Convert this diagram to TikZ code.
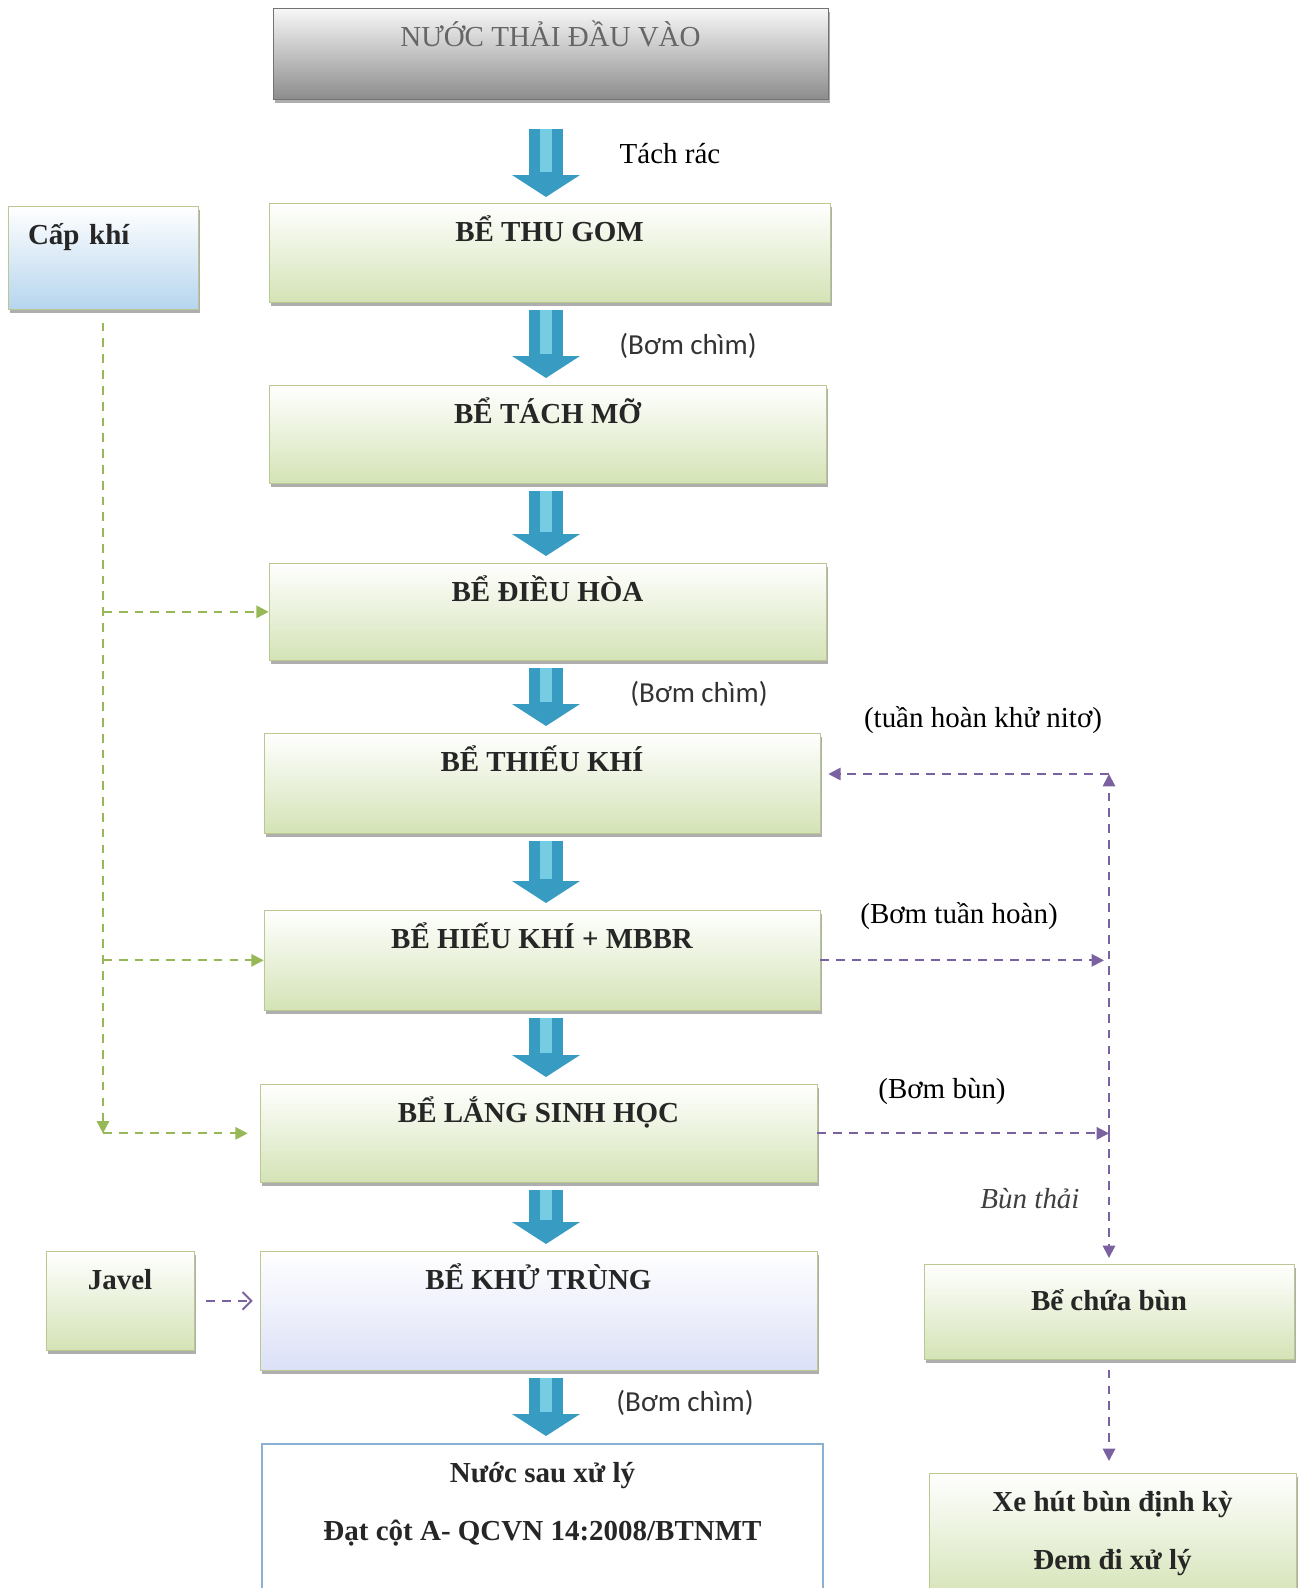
\documentclass[tikz,border=0pt]{standalone}
\usepackage{fontspec}
\setmainfont{Liberation Serif}
\newfontfamily\calibrifont{Carlito}
\usepackage{tikz}
\usetikzlibrary{arrows.meta, shadows, positioning}
\definecolor{boxgreen}{RGB}{212,227,182}
\definecolor{boxedge}{RGB}{186,201,146}
\definecolor{flowblue}{RGB}{56,156,194}
\definecolor{flowlight}{RGB}{118,204,226}
\definecolor{airgreen}{RGB}{150,184,86}
\definecolor{sludge}{RGB}{122,98,160}
\definecolor{airblue}{RGB}{182,213,238}
\definecolor{lavender}{RGB}{220,224,247}
\definecolor{outblue}{RGB}{138,176,212}
\newcommand{\labelsize}{\fontsize{16.5}{20}\selectfont}
\tikzset{
  tank/.style={draw=boxedge, top color=white, bottom color=boxgreen, anchor=north,
    inner sep=0pt, text height=0.76cm, font=\labelsize\bfseries, text=black!85,
    drop shadow={shadow xshift=0.04cm, shadow yshift=-0.07cm, opacity=0.45, fill=black!70}},
  flow/.style={line width=0.68cm, flowblue, -{Triangle[width=1.34cm, length=0.44cm]},
    shorten <=0.14cm, shorten >=0.14cm,
    postaction={draw=flowlight, line width=0.24cm, -, shorten >=0.62cm}},
  airline/.style={airgreen, line width=1.1pt, dash pattern=on 5pt off 4pt,
    -{Triangle[length=7pt, width=7pt]}},
  sludgeline/.style={sludge, line width=1.1pt, dash pattern=on 5pt off 4pt,
    -{Triangle[length=7pt, width=7pt]}},
  pumpnote/.style={font=\calibrifont\labelsize, text=black!80}
}

\begin{document}
\begin{tikzpicture}[x=0.02cm, y=-0.02cm, every node/.style={font=\labelsize}]
    \useasboundingbox (0,0) rectangle (1307,1588);
    \coordinate (axis) at (546,0);
    \coordinate (ret) at (1109,774);

    \node[tank, draw=black!55, top color=black!3, bottom color=black!45, font=\labelsize,
          text=black!60, minimum width=11.1cm, text depth=1.06cm] (inflow) at (550.5,8) {NƯỚC THẢI ĐẦU VÀO};
    \node[tank, minimum width=11.22cm, text depth=1.22cm] (thugom) at (549.5,203) {BỂ THU GOM};
    \node[tank, minimum width=11.14cm, text depth=1.2cm] (tachmo) at (547.5,385) {BỂ TÁCH MỠ};
    \node[tank, minimum width=11.14cm, text depth=1.18cm] (dieuhoa) at (547.5,563) {BỂ ĐIỀU HÒA};
    \node[tank, minimum width=11.12cm, text depth=1.24cm] (thieukhi) at (542,733) {BỂ THIẾU KHÍ};
    \node[tank, minimum width=11.12cm, text depth=1.24cm] (hieukhi) at (542,910) {BỂ HIẾU KHÍ + MBBR};
    \node[tank, minimum width=11.14cm, text depth=1.2cm] (lang) at (538.5,1084) {BỂ LẮNG SINH HỌC};
    \node[tank, bottom color=lavender, minimum width=11.14cm, text depth=1.62cm] (khutrung) at (538.5,1251) {BỂ KHỬ TRÙNG};
    \node[draw=outblue, line width=1.2pt, fill=white, anchor=north, inner sep=0pt, minimum width=11.22cm,
          text height=0.76cm, text depth=2.6cm, font=\labelsize\bfseries, text=black!85] (outflow) at (542.5,1443)
          {\begin{tabular}[t]{@{}c@{}}Nước sau xử lý\\[13pt]Đạt cột A- QCVN 14:2008/BTNMT\end{tabular}};

    \node[tank, bottom color=airblue, text width=3.0cm, inner xsep=0.4cm, align=left, text depth=1.3cm] (capkhi) at (103,206) {Cấp khí};
    \node[tank, minimum width=2.96cm, text depth=1.22cm] (javel) at (120,1251) {Javel};
    \node[tank, minimum width=7.4cm, text height=0.92cm, text depth=0.98cm] (chuabun) at (1109,1264) {Bể chứa bùn};
    \node[tank, minimum width=7.34cm, text depth=1.78cm] (xehut) at (1112.5,1473)
          {\begin{tabular}[t]{@{}c@{}}Xe hút bùn định kỳ\\[13pt]Đem đi xử lý\end{tabular}};

    \draw[flow, shorten <=0.58cm, shorten >=0.12cm] (axis |- inflow.south) -- (axis |- thugom.north);
    \draw[flow] (axis |- thugom.south) -- (axis |- tachmo.north);
    \draw[flow] (axis |- tachmo.south) -- (axis |- dieuhoa.north);
    \draw[flow] (axis |- dieuhoa.south) -- (axis |- thieukhi.north);
    \draw[flow] (axis |- thieukhi.south) -- (axis |- hieukhi.north);
    \draw[flow] (axis |- hieukhi.south) -- (axis |- lang.north);
    \draw[flow] (axis |- lang.south) -- (axis |- khutrung.north);
    \draw[flow] (axis |- khutrung.south) -- (axis |- outflow.north);

    \node (tachrac) at (670,154) {Tách rác};
    \node[pumpnote] (pump1) at (688,346) {(Bơm chìm)};
    \node[pumpnote] (pump2) at (699,694) {(Bơm chìm)};
    \node[pumpnote] (pump3) at (685,1403) {(Bơm chìm)};

    \draw[airline] ([yshift=-0.26cm]capkhi.south) -- (capkhi.south |- lang.west);
    \draw[airline] (capkhi.south |- dieuhoa.west) -- (dieuhoa.west);
    \draw[airline] (capkhi.south |- hieukhi.west) -- (hieukhi.west);
    \draw[airline, shorten >=0.24cm] (capkhi.south |- lang.west) -- (lang.west);

    \draw[sludgeline, shorten >=0.1cm] (hieukhi.east) -- (hieukhi.east -| ret);
    \draw[sludgeline] (lang.east) -- (lang.east -| ret);
    \draw[sludgeline] (lang.east -| ret) -- (ret);
    \draw[sludgeline, shorten >=0.16cm] (ret) -- (ret -| thieukhi.east);
    \draw[sludgeline, shorten >=0.12cm] (lang.east -| ret) -- (chuabun.north);
    \draw[sludgeline] ([yshift=-0.2cm]chuabun.south) -- ([yshift=0.24cm]chuabun.south |- xehut.north);
    \draw[sludgeline, -{Straight Barb[length=5pt, width=10pt]}] ([xshift=0.24cm]javel.east) -- ([xshift=-0.14cm]javel.east -| khutrung.west);

    \node (nitrat) at (983,720) {(tuần hoàn khử nitơ)};
    \node (tuanhoan) at (959,916) {(Bơm tuần hoàn)};
    \node (bombun) at (942,1091) {(Bơm bùn)};
    \node[font=\labelsize\itshape, text=black!75] (bunthai) at (1030,1199) {Bùn thải};
\end{tikzpicture}
\end{document}
